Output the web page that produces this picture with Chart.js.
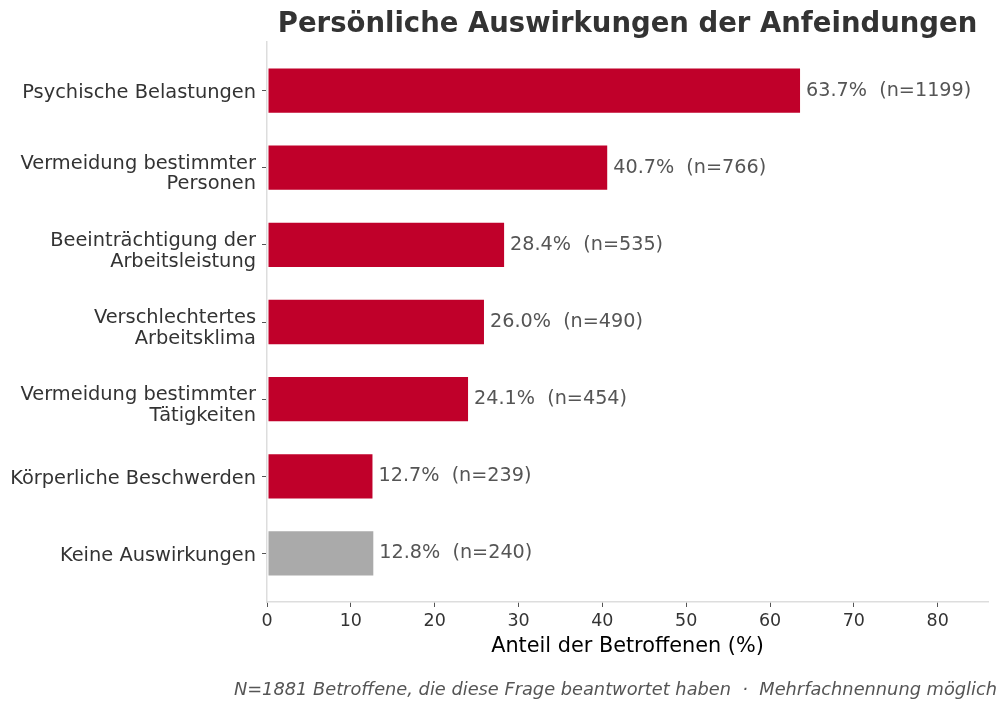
<!DOCTYPE html>
<html>
<head>
<meta charset="utf-8">
<script src="https://cdn.jsdelivr.net/npm/chart.js@4.4.1/dist/chart.umd.min.js"></script>
<style>
  html, body { margin: 0; padding: 0; background: #ffffff; }
  #wrap { width: 998px; height: 702px; }
</style>
</head>
<body>
<div id="wrap"><canvas id="c" width="998" height="702"></canvas></div>
<script>
// ---- data ----
const categories = [
  ["Psychische Belastungen"],
  ["Vermeidung bestimmter", "Personen"],
  ["Beeinträchtigung der", "Arbeitsleistung"],
  ["Verschlechtertes", "Arbeitsklima"],
  ["Vermeidung bestimmter", "Tätigkeiten"],
  ["Körperliche Beschwerden"],
  ["Keine Auswirkungen"]
];
const percentValues = [63.7, 40.7, 28.4, 26.0, 24.1, 12.7, 12.8];
const counts = [1199, 766, 535, 490, 454, 239, 240];
const xTicks = [0, 10, 20, 30, 40, 50, 60, 70, 80];
const titleText = "Persönliche Auswirkungen der Anfeindungen";
const xTitle = "Anteil der Betroffenen (%)";
const footnote = "N=1881 Betroffene, die diese Frage beantwortet haben  ·  Mehrfachnennung möglich";

const RED = "#c0002a";
const GRAY = "#aaaaaa";
const FONT = "'DejaVu Sans', sans-serif";

const valueLabels = {
  id: "valueLabels",
  afterDatasetsDraw(chart) {
    const ctx = chart.ctx;
    const meta = chart.getDatasetMeta(0);
    ctx.save();
    ctx.font = "19.2px " + FONT;
    ctx.fillStyle = "#555555";
    ctx.textAlign = "left";
    ctx.textBaseline = "middle";
    meta.data.forEach((bar, i) => {
      const txt = percentValues[i].toFixed(1) + "%  (n=" + counts[i] + ")";
      ctx.fillText(txt, bar.x + 5, bar.y);
    });
    ctx.restore();
  }
};

// category labels on the y axis, positioned through the y scale
const yLabels = {
  id: "yLabels",
  afterDraw(chart) {
    const ctx = chart.ctx;
    const ys = chart.scales.y;
    const LH = 20.7;
    ctx.save();
    ctx.font = "19.4px " + FONT;
    ctx.fillStyle = "#333333";
    ctx.textAlign = "right";
    ctx.textBaseline = "alphabetic";
    categories.forEach((lines, i) => {
      const y = ys.getPixelForValue(i);
      const n = lines.length;
      lines.forEach((ln, k) => {
        ctx.fillText(ln, ys.right - 11, y + 7.9 - (n - 1) * 6.9 + k * LH);
      });
    });
    ctx.restore();
  }
};

const footnotePlugin = {
  id: "footnote",
  afterDraw(chart) {
    const ctx = chart.ctx;
    ctx.save();
    ctx.font = "italic 17.8px " + FONT;
    ctx.fillStyle = "#555555";
    ctx.textAlign = "right";
    ctx.textBaseline = "middle";
    ctx.fillText(footnote, chart.width - 1, 690.5);
    ctx.restore();
  }
};

new Chart(document.getElementById("c"), {
  type: "bar",
  data: {
    datasets: [{
      data: percentValues.map((v, i) => ({ x: v, y: i })),
      backgroundColor: ctx => (categories[ctx.dataIndex][0] === "Keine Auswirkungen" ? GRAY : RED),
      borderColor: "rgba(255,255,255,0.5)",
      borderWidth: 1,
      borderSkipped: false,
      barPercentage: 0.6,
      categoryPercentage: 1.0
    }]
  },
  options: {
    indexAxis: "y",
    responsive: false,
    animation: false,
    devicePixelRatio: 1,
    layout: { padding: { left: 0, right: 10, top: 0, bottom: 43 } },
    plugins: {
      legend: { display: false },
      tooltip: { enabled: false },
      title: {
        display: true,
        text: titleText,
        fullSize: false,
        color: "#333333",
        font: { family: FONT, size: 27.5, weight: "bold", lineHeight: 1.2 },
        padding: { top: 8, bottom: 1 }
      }
    },
    scales: {
      x: {
        type: "linear",
        min: 0,
        max: 86,
        afterBuildTicks: s => { s.ticks = xTicks.map(v => ({ value: v })); },
        afterFit: s => { s.height = 57; },
        grid: { drawOnChartArea: false, drawTicks: true, tickLength: 5, tickColor: "#555555", tickWidth: 1 },
        border: { display: true, color: "#dddddd", width: 1.5 },
        ticks: { color: "#333333", font: { family: FONT, size: 17.5 }, padding: 4 },
        title: {
          display: true,
          text: xTitle,
          color: "#000000",
          font: { family: FONT, size: 20.8, lineHeight: 1.2 },
          padding: { top: 0, bottom: 0 }
        }
      },
      y: {
        type: "linear",
        reverse: true,
        offset: false,
        min: -0.63,
        max: 6.63,
        afterBuildTicks: s => { s.ticks = categories.map((c, i) => ({ value: i })); },
        afterFit: s => { s.width = 267; },
        grid: { offset: false, drawOnChartArea: false, drawTicks: true, tickLength: 5, tickColor: "#555555", tickWidth: 1 },
        border: { display: true, color: "#dddddd", width: 1.5 },
        ticks: { display: false }
      }
    }
  },
  plugins: [valueLabels, yLabels, footnotePlugin]
});
</script>
</body>
</html>
